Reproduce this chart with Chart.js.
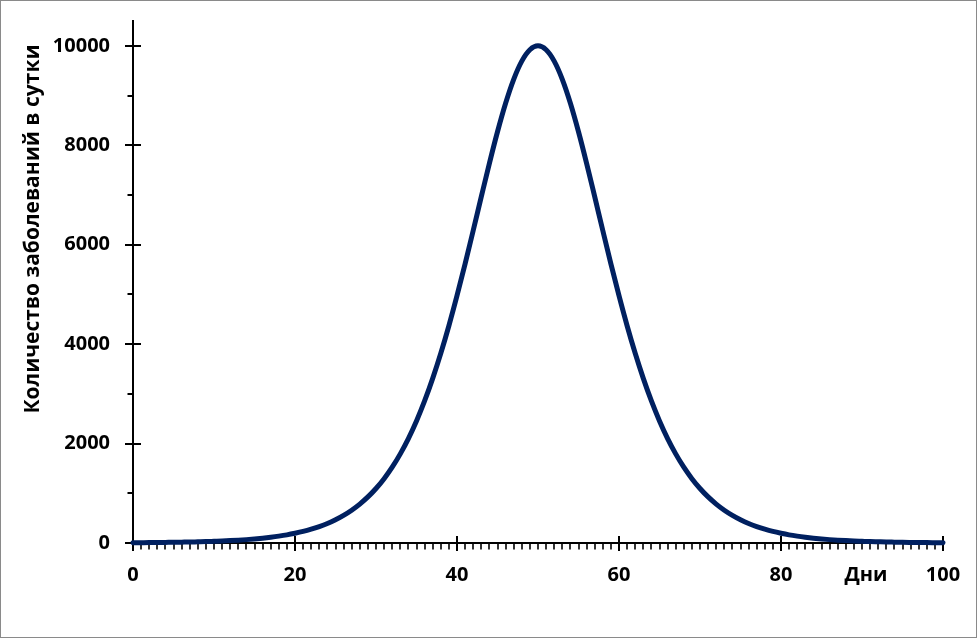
<!DOCTYPE html>
<html>
<head>
<meta charset="utf-8">
<script src="https://cdn.jsdelivr.net/npm/chart.js@4.4.1/dist/chart.umd.min.js"></script>
<style>
  html, body { margin: 0; padding: 0; background: #ffffff; }
  #wrap { width: 977px; height: 639px; }
</style>
</head>
<body>
<div id="wrap"><canvas id="c" width="977" height="639"></canvas></div>
<script>
// ---- data ----
const days = [0,1,2,3,4,5,6,7,8,9,10,11,12,13,14,15,16,17,18,19,20,21,22,23,24,25,26,27,28,29,30,31,32,33,34,35,36,37,38,39,40,41,42,43,44,45,46,47,48,49,50,51,52,53,54,55,56,57,58,59,60,61,62,63,64,65,66,67,68,69,70,71,72,73,74,75,76,77,78,79,80,81,82,83,84,85,86,87,88,89,90,91,92,93,94,95,96,97,98,99,100];
const casesPerDay = [6,7,8,10,12,14,17,20,24,28,34,40,48,57,68,81,97,116,138,164,196,233,278,331,393,468,556,660,783,927,1096,1294,1525,1793,2101,2455,2857,3311,3815,4371,4974,5616,6286,6966,7637,8272,8845,9327,9693,9922,10000,9922,9693,9327,8845,8272,7637,6966,6286,5616,4974,4371,3815,3311,2857,2455,2101,1793,1525,1294,1096,927,783,660,556,468,393,331,278,233,196,164,138,116,97,81,68,57,48,40,34,28,24,20,17,14,12,10,8,7,6];
const xMajorTicks = [0,20,40,60,80,100];
const xMinorTicks = [1,2,3,4,5,6,7,8,9,10,11,12,13,14,15,16,17,18,19,21,22,23,24,25,26,27,28,29,30,31,32,33,34,35,36,37,38,39,41,42,43,44,45,46,47,48,49,50,51,52,53,54,55,56,57,58,59,61,62,63,64,65,66,67,68,69,70,71,72,73,74,75,76,77,78,79,81,82,83,84,85,86,87,88,89,90,91,92,93,94,95,96,97,98,99];
const yMajorTicks = [0,2000,4000,6000,8000,10000];
const yMinorTicks = [1000,3000,5000,7000,9000];
const yAxisTitle = 'Количество заболеваний в сутки';
const xAxisTitle = 'Дни';
const xTitleAt = 90.5;

const points = days.map((d, i) => ({x: d, y: casesPerDay[i]}));
const FONT = '"Open Sans", "DejaVu Sans", sans-serif';

const marksPlugin = {
  id: 'marks',
  beforeDraw(chart) {
    const ctx = chart.ctx;
    ctx.save();
    ctx.fillStyle = '#ffffff';
    ctx.fillRect(0, 0, chart.width, chart.height);
    ctx.restore();
  },
  beforeDatasetsDraw(chart) {
    const {ctx, scales: {x, y}} = chart;
    const ax = x.getPixelForValue(0);
    const ay = y.getPixelForValue(0);
    ctx.save();
    ctx.strokeStyle = '#000000';
    ctx.lineWidth = 2;
    ctx.beginPath();
    yMajorTicks.forEach(v => {
      const p = Math.round(y.getPixelForValue(v));
      ctx.moveTo(ax - 8, p); ctx.lineTo(ax + 8, p);
    });
    yMinorTicks.forEach(v => {
      const p = Math.round(y.getPixelForValue(v));
      ctx.moveTo(ax - 5.5, p); ctx.lineTo(ax, p);
    });
    xMajorTicks.forEach(v => {
      const p = Math.round(x.getPixelForValue(v));
      ctx.moveTo(p, ay - 7); ctx.lineTo(p, ay + 8);
    });
    ctx.stroke();
    ctx.lineWidth = 1.6;
    ctx.beginPath();
    xMinorTicks.forEach(v => {
      const p = Math.round(x.getPixelForValue(v));
      ctx.moveTo(p, ay); ctx.lineTo(p, ay + 6.5);
    });
    ctx.stroke();
    ctx.restore();
  },
  afterDraw(chart) {
    const {ctx, scales: {x}} = chart;
    ctx.save();
    ctx.strokeStyle = '#8a8a8a';
    ctx.lineWidth = 1;
    ctx.strokeRect(0.5, 0.5, 976, 637);
    ctx.fillStyle = '#000000';
    ctx.textAlign = 'center';
    ctx.textBaseline = 'middle';
    ctx.font = 'bold 21px ' + FONT;
    ctx.save();
    ctx.translate(33, 229);
    ctx.rotate(-Math.PI / 2);
    ctx.fillText(yAxisTitle, 0, 0);
    ctx.restore();
    ctx.font = 'bold 20px ' + FONT;
    ctx.fillText(xAxisTitle, x.getPixelForValue(xTitleAt), 575);
    ctx.restore();
  }
};

new Chart(document.getElementById('c'), {
  type: 'line',
  data: {
    datasets: [{
      data: points,
      borderColor: '#002060',
      borderWidth: 5,
      pointRadius: 0,
      fill: false,
      tension: 0.4,
      cubicInterpolationMode: 'monotone',
      borderCapStyle: 'round',
      clip: false
    }]
  },
  options: {
    responsive: false,
    animation: false,
    devicePixelRatio: 1,
    layout: { padding: { left: 0, right: 34, top: 21, bottom: 0 } },
    plugins: { legend: { display: false }, tooltip: { enabled: false }, title: { display: false } },
    scales: {
      x: {
        type: 'linear',
        min: 0, max: 100,
        grid: { display: false, drawTicks: false },
        border: { display: true, color: '#000000', width: 2 },
        ticks: {
          padding: 20,
          color: '#000000',
          font: { family: FONT, size: 20, weight: 'bold' },
          maxRotation: 0,
          autoSkip: false
        },
        afterBuildTicks: s => { s.ticks = xMajorTicks.map(v => ({value: v})); },
        afterFit: s => { s.height = 96; s.paddingLeft = 0; s.paddingRight = 0; }
      },
      y: {
        min: 0, max: 10500,
        grid: { display: false, drawTicks: false },
        border: { display: true, color: '#000000', width: 2 },
        ticks: {
          padding: 23,
          color: '#000000',
          font: { family: FONT, size: 20, weight: 'bold' },
          autoSkip: false,
          callback: v => String(v)
        },
        afterBuildTicks: s => { s.ticks = yMajorTicks.map(v => ({value: v})); },
        afterFit: s => { s.width = 133; s.paddingTop = 0; s.paddingBottom = 0; }
      }
    }
  },
  plugins: [marksPlugin]
});
</script>
</body>
</html>
